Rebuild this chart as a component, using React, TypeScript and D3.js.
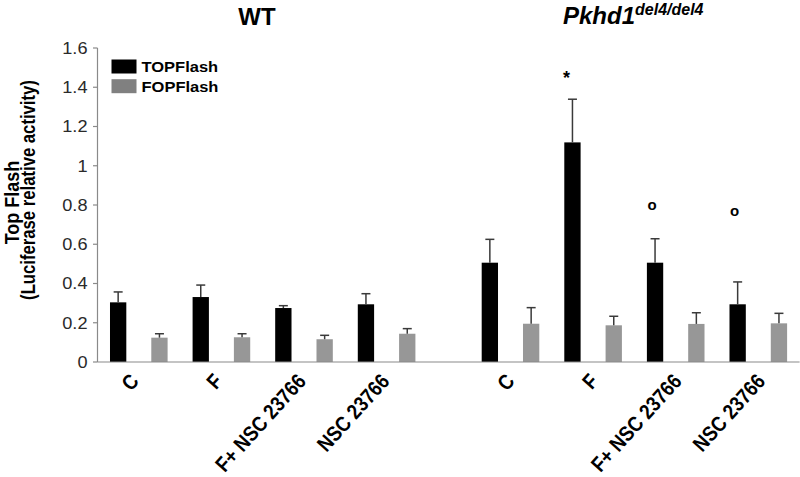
import React from "react";
import * as d3 from "d3";

const groups = ["WT", "Pkhd1"];
const categories = ["C", "F", "F+ NSC 23766", "NSC 23766"];
const seriesNames = ["TOPFlash", "FOPFlash"];

const wtTop = [0.304, 0.331, 0.275, 0.294];
const wtTopErr = [0.053, 0.061, 0.012, 0.054];
const wtFop = [0.124, 0.126, 0.116, 0.144];
const wtFopErr = [0.02, 0.018, 0.02, 0.026];

const pkTop = [0.506, 1.119, 0.506, 0.294];
const pkTopErr = [0.119, 0.22, 0.122, 0.114];
const pkFop = [0.195, 0.187, 0.194, 0.197];
const pkFopErr = [0.082, 0.046, 0.057, 0.051];

const yTicks = [0, 0.2, 0.4, 0.6, 0.8, 1, 1.2, 1.4, 1.6];

// annotations: [group, category, series, label, y value]
const annotations: [number, number, number, string, number][] = [
  [1, 1, 0, "*", 1.45],
  [1, 2, 0, "o", 0.8],
  [1, 3, 0, "o", 0.77],
];

const FONT = "'Liberation Sans', Arial, Helvetica, sans-serif";
const colors = ["#000000", "#979797"];

export default function App() {
  const W = 800;
  const H = 477;
  const y = d3.scaleLinear().domain([0, 1.6]).range([362, 48]);
  const slots = d3.range(17);
  const x = d3.scaleBand<number>().domain(slots).range([97.5, 799.6]).padding(0);
  const bw = x.bandwidth() * 0.395;

  const slotOf = (g: number, c: number, s: number) => g * 9 + c * 2 + s;
  const values = [
    [wtTop, wtFop],
    [pkTop, pkFop],
  ];
  const errs = [
    [wtTopErr, wtFopErr],
    [pkTopErr, pkFopErr],
  ];

  const bars: { g: number; c: number; s: number; v: number; e: number }[] = [];
  groups.forEach((_, g) =>
    categories.forEach((_, c) =>
      [0, 1].forEach((s) =>
        bars.push({ g, c, s, v: values[g][s][c], e: errs[g][s][c] })
      )
    )
  );

  const cx = (g: number, c: number, s: number) =>
    (x(slotOf(g, c, s)) as number) + x.bandwidth() / 2;

  // label anchor: cluster centre with a slight drift to the right
  const labelX = d3.scaleLinear().domain([138.8, 758]).range([140, 766]);

  return (
    <svg
      width={W}
      height={H}
      style={{ position: "absolute", left: 0, top: 0, background: "#fff" }}
      fontFamily={FONT}
    >
      {/* titles */}
      <text x={257} y={25} fontSize={24} fontWeight="bold" textAnchor="middle" fill="#000">
        WT
      </text>
      <text x={563} y={24} fontSize={24} fontWeight="bold" fontStyle="italic" fill="#000">
        Pkhd1
        <tspan fontSize={16} dy={-9}>del4/del4</tspan>
      </text>

      {/* y axis */}
      <line x1={97.5} x2={97.5} y1={y(1.6)} y2={y(0)} stroke="#8a8a8a" strokeWidth={1.2} />
      {yTicks.map((t) => (
        <g key={t}>
          <line x1={93} x2={97.5} y1={y(t)} y2={y(t)} stroke="#8a8a8a" strokeWidth={1.2} />
          <text
            transform={`translate(87.5,${y(t)}) scale(1.1,1)`}
            dy="0.35em"
            fontSize={16.5}
            textAnchor="end"
            fill="#2a2a2a"
          >
            {String(t)}
          </text>
        </g>
      ))}

      {/* y label */}
      <text
        transform="translate(18.5,202.5) rotate(-90) scale(0.9,1)"
        fontSize={20}
        fontWeight="bold"
        textAnchor="middle"
        fill="#000"
      >
        Top Flash
      </text>
      <text
        transform="translate(35,190) rotate(-90) scale(0.835,1)"
        fontSize={20}
        fontWeight="bold"
        textAnchor="middle"
        fill="#000"
      >
        (Luciferase relative activity)
      </text>

      {/* bars */}
      {bars.map((b, i) => {
        const c = cx(b.g, b.c, b.s);
        const top = y(b.v);
        const et = y(b.v + b.e);
        return (
          <g key={i}>
            <rect x={c - bw / 2} y={top} width={bw} height={y(0) - top} fill={colors[b.s]} />
            <line x1={c} x2={c} y1={top} y2={et} stroke="#3a3a3a" strokeWidth={1.5} />
            <line x1={c - 4.5} x2={c + 4.5} y1={et} y2={et} stroke="#3a3a3a" strokeWidth={1.5} />
          </g>
        );
      })}

      {/* x axis */}
      <line x1={97.5} x2={799.6} y1={y(0)} y2={y(0)} stroke="#8a8a8a" strokeWidth={1.2} />

      {/* x labels */}
      {groups.map((_, g) =>
        categories.map((cat, c) => {
          const px = labelX(x(slotOf(g, c, 1)) as number);
          return (
            <text
              key={g + "-" + c}
              transform={`translate(${px},${382}) rotate(-48) scale(1,1.15)`}
              fontSize={18.5}
              fontWeight="bold"
              textAnchor="end"
              fill="#000"
            >
              {cat}
            </text>
          );
        })
      )}

      {/* annotations */}
      {annotations.map(([g, c, s, lab, v], i) => (
        <text
          key={i}
          x={cx(g, c, s) - (lab === "*" ? 6 : 3)}
          y={y(v)}
          dy="0.35em"
          fontSize={lab === "*" ? 18 : 15}
          fontWeight="bold"
          textAnchor="middle"
          fill="#000"
        >
          {lab}
        </text>
      ))}

      {/* legend */}
      {seriesNames.map((n, i) => (
        <g key={n}>
          <rect x={111.5} y={59.5 + i * 19.7} width={25} height={14} fill={i === 0 ? "#000" : "#808080"} />
          <text
            transform={`translate(141.5,${72 + i * 19.7}) scale(1.1,1)`}
            fontSize={15}
            fontWeight="bold"
            fill="#000"
          >
            {n}
          </text>
        </g>
      ))}
    </svg>
  );
}
